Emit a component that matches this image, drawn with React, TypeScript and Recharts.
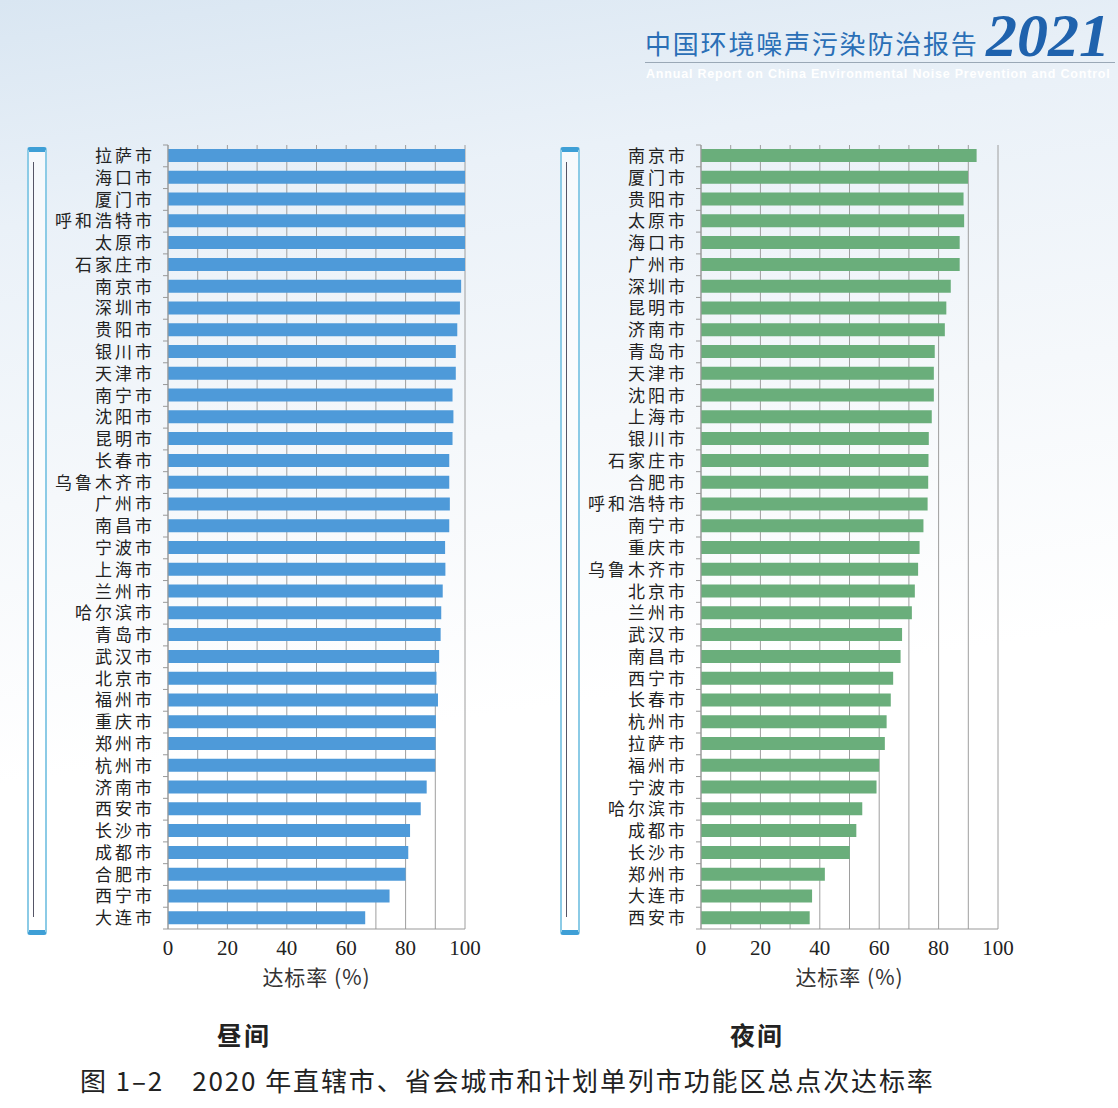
import React from 'react';
import { BarChart, Bar, XAxis, YAxis, CartesianGrid } from 'recharts';

const dayCities = [
  '拉萨市', '海口市', '厦门市', '呼和浩特市', '太原市', '石家庄市', '南京市', '深圳市', '贵阳市',
  '银川市', '天津市', '南宁市', '沈阳市', '昆明市', '长春市', '乌鲁木齐市', '广州市', '南昌市',
  '宁波市', '上海市', '兰州市', '哈尔滨市', '青岛市', '武汉市', '北京市', '福州市', '重庆市',
  '郑州市', '杭州市', '济南市', '西安市', '长沙市', '成都市', '合肥市', '西宁市', '大连市',
];
const dayRates = [
  100, 100, 100, 100, 100, 100, 98.7, 98.3, 97.4,
  96.9, 96.9, 95.8, 96.1, 95.8, 94.7, 94.7, 94.9, 94.7,
  93.3, 93.4, 92.5, 92.0, 91.8, 91.3, 90.4, 90.9, 90.2,
  90.1, 90.0, 87.1, 85.1, 81.5, 80.9, 80.0, 74.6, 66.4,
];

const nightCities = [
  '南京市', '厦门市', '贵阳市', '太原市', '海口市', '广州市', '深圳市', '昆明市', '济南市',
  '青岛市', '天津市', '沈阳市', '上海市', '银川市', '石家庄市', '合肥市', '呼和浩特市', '南宁市',
  '重庆市', '乌鲁木齐市', '北京市', '兰州市', '武汉市', '南昌市', '西宁市', '长春市', '杭州市',
  '拉萨市', '福州市', '宁波市', '哈尔滨市', '成都市', '长沙市', '郑州市', '大连市', '西安市',
];
const nightRates = [
  92.8, 89.9, 88.4, 88.6, 87.1, 87.1, 84.1, 82.6, 82.1,
  78.7, 78.4, 78.4, 77.7, 76.7, 76.6, 76.5, 76.3, 74.9,
  73.6, 73.1, 72.0, 71.0, 67.7, 67.2, 64.7, 63.9, 62.5,
  61.9, 60.0, 59.1, 54.3, 52.3, 50.1, 41.7, 37.4, 36.6,
];

// gridlines every 10, labels only every 20
const xTicks = [0, 10, 20, 30, 40, 50, 60, 70, 80, 90, 100];

const CHART_W = 490;
const CHART_H = 1000;
const MARGIN = { top: 145, right: 25, bottom: 11, left: 0 };
const PLOT_H = CHART_H - MARGIN.top - MARGIN.bottom - 60;

const CityTick = (props: any) => {
  const { x, y, payload, index } = props;
  const step = PLOT_H / 36;
  const ax = x + 13;
  return (
    <g>
      <text
        x={x}
        y={y}
        dy="0.36em"
        textAnchor="end"
        fill="#222"
        fontSize={17}
        letterSpacing={3}
        fontFamily='"Noto Sans CJK SC", sans-serif'
      >
        {payload.value}
      </text>
      {index === 0 && <line x1={ax - 5} x2={ax} y1={y - step / 2} y2={y - step / 2} stroke="#999" />}
      <line x1={ax - 5} x2={ax} y1={y + step / 2} y2={y + step / 2} stroke="#999" />
    </g>
  );
};

function CityChart({ cities, rates, color }: { cities: string[]; rates: number[]; color: string }) {
  const data = cities.map((name, i) => ({ name, value: rates[i] }));
  return (
    <BarChart width={CHART_W} height={CHART_H} data={data} layout="vertical" margin={MARGIN}>
      <CartesianGrid horizontal={false} stroke="#9e9e9e" />
      <XAxis
        type="number"
        domain={[0, 100]}
        ticks={xTicks}
        interval={0}
        height={60}
        tickLine={false}
        tickMargin={5}
        stroke="#999"
        tickFormatter={(v: number) => (v % 20 === 0 ? String(v) : '')}
        tick={{ fontSize: 21, fill: '#222', fontFamily: '"Liberation Serif", serif' }}
        label={{
          value: '达标率 (%)',
          position: 'insideBottom',
          offset: 4,
          fontSize: 21,
          fill: '#333',
          letterSpacing: 1,
          fontFamily: '"Noto Sans CJK SC", sans-serif',
        }}
      />
      <YAxis
        type="category"
        dataKey="name"
        width={168}
        interval={0}
        tickSize={0}
        tickMargin={13}
        tickLine={false}
        stroke="#999"
        tick={<CityTick />}
      />
      <Bar dataKey="value" fill={color} barSize={13} isAnimationActive={false} />
    </BarChart>
  );
}

const Binding = ({ left }: { left: number }) => (
  <div
    style={{
      position: 'absolute',
      left,
      top: 147,
      width: 16,
      height: 778,
      border: '2px solid #8ccbe6',
      borderTop: '5px solid #3e9fd6',
      borderBottom: '5px solid #3e9fd6',
      borderRadius: 3,
      background: 'rgba(255,255,255,0.6)',
    }}
  >
    <div style={{ position: 'absolute', left: 4, top: 10, width: 1, height: 755, background: '#556' }} />
  </div>
);

export default function App() {
  return (
    <div
      style={{
        position: 'absolute',
        left: 0,
        top: 0,
        width: 1118,
        height: 1108,
        overflow: 'hidden',
        background: 'linear-gradient(172deg, #d9e6f2 0%, #eaf1f8 18%, #f5f8fb 40%, #ffffff 62%)',
        fontFamily: '"Noto Sans CJK SC", sans-serif',
      }}
    >
      <div
        style={{
          position: 'absolute',
          left: 645,
          top: 24,
          fontSize: 26,
          letterSpacing: 1.8,
          color: '#2a6fb6',
          whiteSpace: 'nowrap',
        }}
      >
        中国环境噪声污染防治报告
      </div>
      <div
        style={{
          position: 'absolute',
          left: 986,
          top: 4,
          fontSize: 62,
          lineHeight: '62px',
          fontStyle: 'italic',
          fontWeight: 'bold',
          color: '#1f62ad',
          fontFamily: '"Liberation Serif", serif',
        }}
      >
        2021
      </div>
      <div style={{ position: 'absolute', left: 645, top: 62, width: 470, height: 1, background: '#9aa8b6' }} />
      <div
        style={{
          position: 'absolute',
          left: 646,
          top: 67,
          fontSize: 12.5,
          letterSpacing: 0.8,
          color: '#ffffff',
          fontWeight: 'bold',
          whiteSpace: 'nowrap',
          fontFamily: '"Liberation Sans", sans-serif',
        }}
      >
        Annual Report on China Environmental Noise Prevention and Control
      </div>

      <Binding left={27} />
      <Binding left={560} />

      <div style={{ position: 'absolute', left: 0, top: 0 }}>
        <CityChart cities={dayCities} rates={dayRates} color="#4e9ad9" />
      </div>
      <div style={{ position: 'absolute', left: 533, top: 0 }}>
        <CityChart cities={nightCities} rates={nightRates} color="#6aae7b" />
      </div>

      <div style={{ position: 'absolute', left: 217, top: 1016, fontSize: 25, letterSpacing: 2, fontWeight: 'bold', color: '#222' }}>昼间</div>
      <div style={{ position: 'absolute', left: 730, top: 1016, fontSize: 25, letterSpacing: 2, fontWeight: 'bold', color: '#222' }}>夜间</div>
      <div
        style={{
          position: 'absolute',
          left: 80,
          top: 1061,
          fontSize: 26,
          letterSpacing: 1.9,
          color: '#222',
          whiteSpace: 'nowrap',
          fontFamily: '"Noto Sans CJK SC", "Liberation Sans", sans-serif',
        }}
      >
        <span>图 1–2</span>
        <span style={{ marginLeft: 28 }}>2020 年直辖市、省会城市和计划单列市功能区总点次达标率</span>
      </div>
    </div>
  );
}
